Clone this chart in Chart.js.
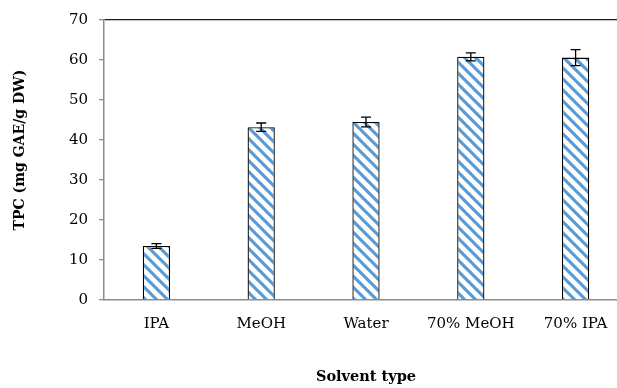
<!DOCTYPE html>
<html>
<head>
<meta charset="utf-8">
<script src="https://cdn.jsdelivr.net/npm/chart.js@4"></script>
<style>
  html, body { margin: 0; background: #fff; overflow: hidden; }
  /* the original picture is cut off on the right, so the chart is a bit wider than the window */
  #wrap { width: 630px; height: 388px; }
</style>
</head>
<body>
<div id="wrap"><canvas id="tpcChart"></canvas></div>
<script>
// chart values
const solvents = ["IPA", "MeOH", "Water", "70% MeOH", "70% IPA"];
const tpcValues = [13.5, 43.2, 44.5, 60.8, 60.6];
const tpcErrors = [0.6, 1.05, 1.2, 1.0, 2.0];
const yTicks = [0, 10, 20, 30, 40, 50, 60, 70];
const yTitle = "TPC (mg GAE/g DW)";

const FONT = "'DejaVu Serif', serif";

// diagonal striped fill like the office chart
function makeStripes() {
  const size = 11;
  const c = document.createElement("canvas");
  c.width = size;
  c.height = size;
  const ctx = c.getContext("2d");
  ctx.fillStyle = "#fff";
  ctx.fillRect(0, 0, size, size);
  ctx.strokeStyle = "#5b9bd5";
  ctx.lineWidth = 3.1;
  ctx.beginPath();
  for (let k = -1; k <= 1; k++) {
    ctx.moveTo(k * size - 2, -2);
    ctx.lineTo(k * size + size + 2, size + 2);
  }
  ctx.stroke();
  return ctx.createPattern(c, "repeat");
}

// error bars drawn from the arrays above
const errorBars = {
  id: "errorBars",
  afterDatasetsDraw(chart) {
    const ctx = chart.ctx;
    const meta = chart.getDatasetMeta(0);
    const y = chart.scales.y;
    ctx.save();
    ctx.strokeStyle = "#000";
    ctx.lineWidth = 1.3;
    meta.data.forEach((bar, i) => {
      const top = y.getPixelForValue(tpcValues[i] + tpcErrors[i]);
      const bot = y.getPixelForValue(tpcValues[i] - tpcErrors[i]);
      const x = bar.x;
      ctx.beginPath();
      ctx.moveTo(x, top);
      ctx.lineTo(x, bot);
      ctx.moveTo(x - 5, top);
      ctx.lineTo(x + 5, top);
      ctx.moveTo(x - 5, bot);
      ctx.lineTo(x + 5, bot);
      ctx.stroke();
    });
    ctx.restore();
  },
};

// y title sits a little above the middle of the axis in the original
const sideTitle = {
  id: "sideTitle",
  afterDraw(chart) {
    const ctx = chart.ctx;
    ctx.save();
    ctx.translate(20, 150);
    ctx.rotate(-Math.PI / 2);
    ctx.font = "bold 14px " + FONT;
    ctx.fillStyle = "#000";
    ctx.textAlign = "center";
    ctx.textBaseline = "middle";
    ctx.fillText(yTitle, 0, 0);
    ctx.restore();
  },
};

new Chart(document.getElementById("tpcChart"), {
  type: "bar",
  data: {
    labels: solvents,
    datasets: [
      {
        data: tpcValues,
        backgroundColor: makeStripes(),
        borderColor: "#000",
        borderWidth: 1.3,
        barPercentage: 0.26,
        categoryPercentage: 1,
      },
    ],
  },
  options: {
    responsive: true,
    maintainAspectRatio: false,
    animation: false,
    layout: { padding: { top: 19, right: 2, left: 0, bottom: 0 } },
    plugins: { legend: { display: false }, tooltip: { enabled: false } },
    scales: {
      x: {
        grid: { display: false },
        border: { display: true, color: "#8c8c8c", width: 1.5 },
        ticks: { color: "#000", font: { family: FONT, size: 15 }, padding: 7, maxRotation: 0 },
        title: {
          display: true,
          text: "Solvent type",
          color: "#000",
          font: { family: FONT, size: 14.5, weight: "bold" },
          padding: { top: 0, bottom: 2 },
        },
        afterFit(s) { s.height = 88; },
      },
      y: {
        min: 0,
        max: 70,
        afterBuildTicks(s) { s.ticks = yTicks.map((v) => ({ value: v })); },
        grid: {
          drawOnChartArea: true,
          tickLength: 5,
          color: (c) => (c.tick && c.tick.value === 70 ? "#1a1a1a" : "transparent"),
          tickColor: "#8c8c8c",
          lineWidth: 1.3,
        },
        border: { display: true, color: "#8c8c8c", width: 1.5 },
        ticks: { color: "#000", font: { family: FONT, size: 15 }, padding: 11 },
        afterFit(s) { s.width = 104; },
      },
    },
  },
  plugins: [errorBars, sideTitle],
});
</script>
</body>
</html>
